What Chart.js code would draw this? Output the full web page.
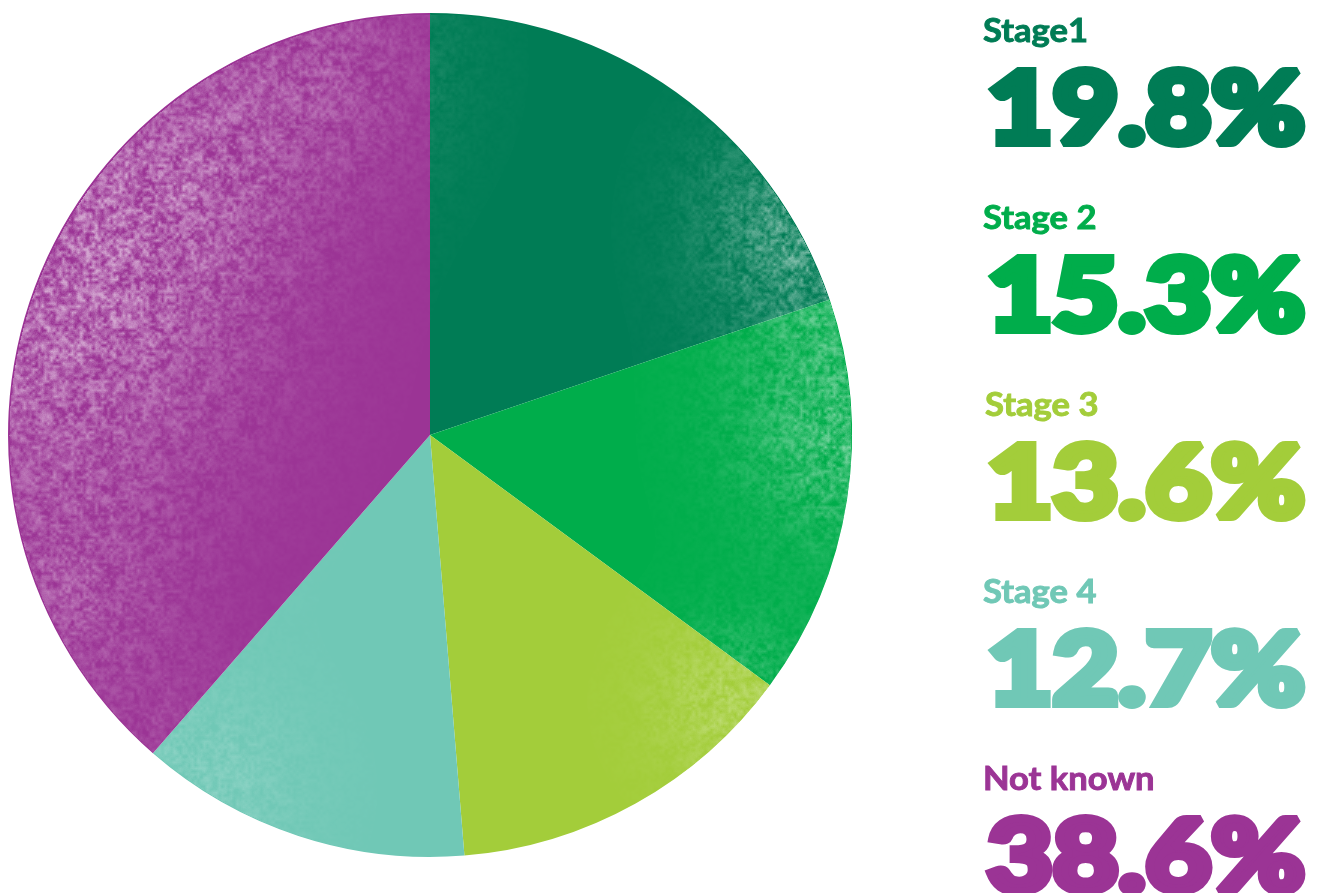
<!DOCTYPE html>
<html>
<head>
<meta charset="utf-8">
<script src="https://cdn.jsdelivr.net/npm/chart.js@4/dist/chart.umd.min.js"></script>
<style>
  html,body{margin:0;padding:0;background:#fff;overflow:hidden}
  #wrap{position:relative;width:1333px;height:893px}
</style>
</head>
<body>
<div id="wrap"><canvas id="stageChart" width="1333" height="893"></canvas></div>
<script>
// stage at diagnosis, share of cases
const stageLabels = ['Stage1', 'Stage 2', 'Stage 3', 'Stage 4', 'Not known'];
const stageShares = [19.8, 15.3, 13.6, 12.7, 38.6];
const stageColours = ['#007c55', '#00ad4b', '#a3cd3a', '#70c8b6', '#9b3495'];

// speckle spots: [x, y, radius, strength] in canvas px
const grainSpots = [
  [815, 225, 110, 0.9], [855, 430, 120, 0.8], [740, 700, 90, 0.5],
  [200, 790, 110, 0.35], [40, 330, 200, 0.9], [150, 180, 150, 0.6],
  [310, 60, 130, 0.45], [60, 600, 120, 0.45]
];

function hash(x,y){ const s=Math.sin(x*127.1+y*311.7)*43758.5453; return s-Math.floor(s) }
function valueNoise(x,y,cell){
  const gx=x/cell, gy=y/cell, ix=Math.floor(gx), iy=Math.floor(gy), fx=gx-ix, fy=gy-iy;
  const a=hash(ix,iy), b=hash(ix+1,iy), c=hash(ix,iy+1), d=hash(ix+1,iy+1);
  return (a*(1-fx)+b*fx)*(1-fy)+(c*(1-fx)+d*fx)*fy;
}

// lightens the pie with a soft grainy print texture
const grainPlugin = {
  id:'grain',
  afterDatasetsDraw(chart){
    const arc = chart.getDatasetMeta(0).data[0]; if(!arc) return;
    const cx=arc.x, cy=arc.y, r=arc.outerRadius;
    const x0=Math.floor(cx-r), y0=Math.floor(cy-r), w=Math.ceil(2*r), h=Math.ceil(2*r);
    const ctx=chart.ctx; const img=ctx.getImageData(x0,y0,w,h); const px=img.data;
    for(let j=0;j<h;j++){
      for(let i=0;i<w;i++){
        const x=x0+i, y=y0+j; const dx=x-cx, dy=y-cy;
        if(dx*dx+dy*dy>(r-1)*(r-1)) continue;
        let wt=0;
        grainSpots.forEach(s=>{ const ex=x-s[0], ey=y-s[1]; wt+=s[3]*Math.exp(-(ex*ex+ey*ey)/(2*s[2]*s[2]*0.45)); });
        if(wt<0.02) continue;
        const n=0.55*valueNoise(x,y,3)+0.35*valueNoise(x,y,8)+0.1*hash(x,y);
        const k=Math.min(0.55, Math.max(0, wt*(0.12+(n-0.35)*0.9)));
        if(k<=0) continue;
        const p=(j*w+i)*4;
        px[p]+= (255-px[p])*k; px[p+1]+=(255-px[p+1])*k; px[p+2]+=(255-px[p+2])*k;
      }
    }
    ctx.putImageData(img,x0,y0);
  }
};

// right-hand key: label plus heavy percentage, stretched to a set width
const keyPlugin = {
  id:'stageKey',
  afterDraw(chart){
    const ctx=chart.ctx; const left=983;
    stageLabels.forEach((lab,i)=>{
      const base = 42 + i*187;
      ctx.save(); ctx.fillStyle=stageColours[i]; ctx.strokeStyle=stageColours[i];
      ctx.textBaseline='alphabetic'; ctx.textAlign='left'; ctx.lineJoin='miter'; ctx.miterLimit=2;
      ctx.font='bold 32px "Lato"';
      ctx.save(); ctx.translate(left + (i===2?2:0), base); ctx.scale(1.08,1);
      ctx.lineWidth=0.9; ctx.fillText(lab,0,0); ctx.strokeText(lab,0,0); ctx.restore();
      ctx.font='900 100px "Lato"';
      const txt = stageShares[i].toFixed(1)+'%';
      const mw = ctx.measureText(txt).width;
      ctx.translate(left+4, base+101); ctx.scale(318/mw, 1);
      ctx.lineWidth=8; ctx.fillText(txt, 0, 0); ctx.strokeText(txt, 0, 0);
      ctx.restore();
    });
  }
};

Chart.defaults.font.family = 'Lato';
new Chart(document.getElementById('stageChart').getContext('2d'), {
  type:'pie',
  data:{ labels:stageLabels, datasets:[{ data:stageShares, backgroundColor:stageColours, borderWidth:0 }] },
  options:{
    responsive:false, animation:false,
    layout:{ padding:{ left:8, right:481, top:13, bottom:36 } },
    plugins:{ legend:{display:false}, tooltip:{enabled:false} }
  },
  plugins:[grainPlugin, keyPlugin]
});
</script>
</body>
</html>
